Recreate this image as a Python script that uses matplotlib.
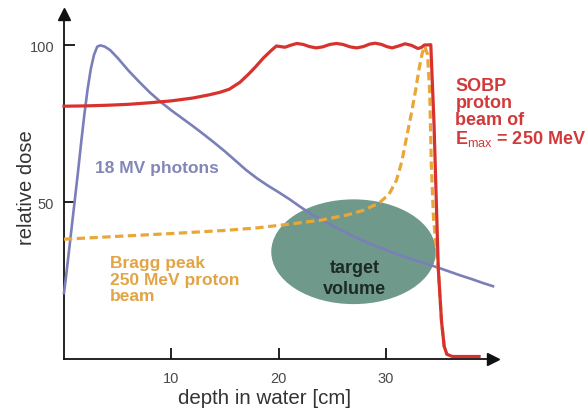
import matplotlib
matplotlib.use("Agg")
import matplotlib.pyplot as plt
from matplotlib.patches import Ellipse

plt.rcParams['font.family'] = ['Liberation Sans', 'DejaVu Sans']
plt.rcParams['mathtext.fontset'] = 'custom'
plt.rcParams['mathtext.rm'] = 'Liberation Sans'
plt.rcParams['mathtext.bf'] = 'Liberation Sans:bold'

# ---- data (depth in cm, relative dose in %) ----
photon_x = [0, 0.25, 0.5, 0.75, 1.0, 1.3, 1.6, 1.9, 2.2, 2.5, 2.8, 3.1, 3.4, 3.8,
            4.3, 5, 6, 7, 8, 9, 10, 11, 12, 13, 14, 15, 16, 17, 18, 19, 20, 21,
            22, 23, 24, 25, 26, 27, 28, 29, 30, 31, 32, 33, 34, 35, 36, 37, 38,
            39, 40]
photon_y = [21, 28, 35.5, 43, 50.5, 59.5, 69, 78, 86, 92.5, 97, 99.6, 100, 99.6,
            98.5, 96, 92, 88.4, 85, 82, 79.3, 76.8, 74.3, 71.7, 69, 66.2, 63.2,
            60.2, 57.6, 55.3, 53.2, 51.0, 48.6, 46.3, 44.4, 42.6, 40.8, 39.1, 37.5,
            36.1, 34.8, 33.5, 32.3, 31.2, 30.1, 29.0, 27.8, 26.6, 25.5, 24.3, 23.2]

sobp_x = [0, 2, 4, 6, 8, 10, 12, 13.5, 14.5, 15.4, 16.4, 17.2, 17.9, 18.6, 19.3,
          19.8, 20.2, 20.6, 21.1, 21.7, 22.3, 22.9, 23.5, 24.1, 24.8, 25.4, 26.0,
          26.7, 27.3, 27.9, 28.5, 29.0, 29.6, 30.1, 30.6, 31.2, 31.8, 32.4, 33.0,
          33.3, 33.6, 34.2, 34.5, 34.9, 35.2, 35.45, 35.7, 36.2, 38.7]
sobp_y = [80.6, 80.7, 80.9, 81.2, 81.7, 82.3, 83.2, 84.2, 85.0, 86, 88.2, 90.8,
          93.3, 96, 98.3, 99.8, 99.6, 99.4, 100.0, 100.6, 100.3, 99.6, 99.2, 99.5,
          100.3, 100.6, 100.3, 99.5, 99.2, 99.6, 100.4, 100.7, 100.3, 99.6, 99.2,
          99.8, 100.5, 100.0, 99.0, 99.3, 100.1, 100.2, 75, 28.7, 12, 4, 1.5, 0.8, 0.8]

bragg_x = [0, 5, 10, 15, 18, 21, 24, 26.5, 28, 29.4, 30.3, 31.0, 31.5, 31.9, 32.4,
           32.8, 33.1, 33.4, 33.65, 33.9, 34.1, 34.25, 34.45, 34.9, 35.2, 35.45, 35.7]
bragg_y = [38.2, 39.1, 40.0, 41.0, 41.8, 43.0, 44.3, 46.0, 47.5, 49.8, 52.5, 57,
           63, 70, 78.5, 86, 92.4, 97.5, 99.7, 97, 85, 62, 45, 28.7, 12, 4, 1.5]

target_center = (27.0, 34.2)
target_size = (15.35, 33.4)

x_ticks = [10, 20, 30]
y_ticks = [50, 100]

RED = '#d8322f'
BLUE = '#7a7fba'
ORANGE = '#e9a73a'
GREEN = '#6f998b'

W, H = 586, 410
fig = plt.figure(figsize=(W / 100, H / 100), dpi=100)
ax = fig.add_axes([64 / W, (H - 360) / H, (493 - 64) / W, (360 - 15) / H])
ax.set_xlim(0, 40)
ax.set_ylim(0, 110)

for s in ['top', 'right']:
    ax.spines[s].set_visible(False)
for s in ['left', 'bottom']:
    ax.spines[s].set_linewidth(1.3)
    ax.spines[s].set_color('#111111')

ax.plot(1, 0, '>', color='#111111', ms=8, transform=ax.get_yaxis_transform(), clip_on=False)
ax.plot(0, 1, '^', color='#111111', ms=8, transform=ax.get_xaxis_transform(), clip_on=False)

ax.set_xticks(x_ticks)
ax.set_yticks(y_ticks)
ax.tick_params(axis='both', direction='in', length=8, width=1.3, color='#111111',
               labelsize=10.5, labelcolor='#4a4a4a')
ax.tick_params(axis='x', pad=9)
ax.tick_params(axis='y', pad=7)

ax.set_xlabel('depth in water [cm]', fontsize=14.8, color='#333333')
ax.set_ylabel('relative dose', fontsize=14.5, color='#333333')
ax.xaxis.set_label_coords((265 - 64) / 429, -0.085)
ax.yaxis.set_label_coords(-0.066, 0.5)

ax.add_patch(Ellipse(target_center, target_size[0], target_size[1],
                     facecolor=GREEN, edgecolor='none', zorder=1))

ax.plot(photon_x, photon_y, color=BLUE, lw=1.9, zorder=3, clip_on=False)
ax.plot(bragg_x, bragg_y, color=ORANGE, lw=2.3, ls=(0, (2.6, 1.4)), zorder=3, clip_on=False)
ax.plot(sobp_x, sobp_y, color=RED, lw=2.3, zorder=4, clip_on=False)

ax.text(2.9, 61.2, '18 MV photons', color='#8287b8', fontsize=12.5, fontweight='bold',
        ha='left', va='center')
ax.text(4.3, 33.2, 'Bragg peak\n250 MeV proton\nbeam', color='#e2a445', fontsize=12.5,
        fontweight='bold', ha='left', va='top', linespacing=1.15)
ax.text(36.5, 89.8, 'SOBP\nproton\nbeam of\nE$_{\\rm max}$ = 250 MeV', color='#d13a3a',
        fontsize=13, fontweight='bold', ha='left', va='top', linespacing=1.0)
ax.text(27.1, 29.3, 'target', color='#1d2a24', fontsize=13, fontweight='bold',
        ha='center', va='center', zorder=5)
ax.text(27.1, 22.6, 'volume', color='#1d2a24', fontsize=13, fontweight='bold',
        ha='center', va='center', zorder=5)

fig.savefig('out.png', dpi=100)
